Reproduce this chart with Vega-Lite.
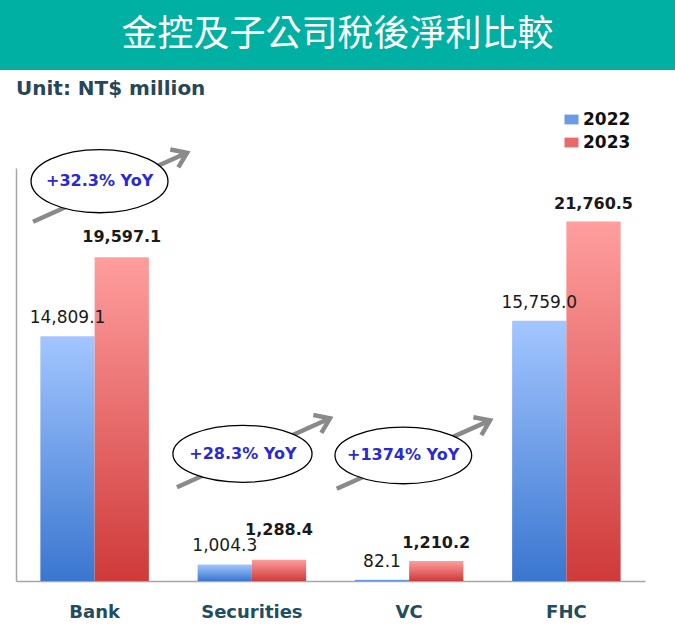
{
  "$schema": "https://vega.github.io/schema/vega-lite/v6.json",
  "padding": 0,
  "background": "white",
  "spacing": 98,
  "bounds": "flush",
  "center": true,
  "datasets": {
    "heading": [{"text": "金控及子公司稅後淨利比較"}],
    "profit": [
      {"category": "Bank", "year": "2022", "value": 14809.1},
      {"category": "Bank", "year": "2023", "value": 19597.1},
      {"category": "Securities", "year": "2022", "value": 1004.3},
      {"category": "Securities", "year": "2023", "value": 1288.4},
      {"category": "VC", "year": "2022", "value": 82.1},
      {"category": "VC", "year": "2023", "value": 1210.2},
      {"category": "FHC", "year": "2022", "value": 15759.0},
      {"category": "FHC", "year": "2023", "value": 21760.5}
    ],
    "yoy": [
      {"category": "Bank", "anchor": 24200, "label": "+32.3% YoY"},
      {"category": "Securities", "anchor": 7700, "label": "+28.3% YoY"},
      {"category": "VC", "anchor": 7600, "label": "+1374% YoY"}
    ]
  },
  "vconcat": [
    {
      "width": 675,
      "height": 70,
      "data": {"name": "heading"},
      "view": {"fill": "#00b0a2", "stroke": null},
      "title": {
        "text": "Unit: NT$ million",
        "orient": "bottom",
        "anchor": "start",
        "frame": "group",
        "offset": 9,
        "dx": 16,
        "font": "DejaVu Sans",
        "fontSize": 20,
        "fontWeight": "bold",
        "color": "#28465a"
      },
      "mark": {
        "type": "text",
        "font": "Noto Sans CJK TC",
        "fontSize": 36,
        "color": "white",
        "baseline": "middle",
        "dy": 0
      },
      "encoding": {"text": {"field": "text"}}
    },
    {
      "width": 643,
      "height": 413,
      "encoding": {
        "x": {
          "field": "category",
          "type": "nominal",
          "sort": ["Bank", "Securities", "VC", "FHC"],
          "scale": {"range": [0, 629], "paddingInner": 0.31, "paddingOuter": 0.155},
          "axis": {
            "title": null,
            "labelAngle": 0,
            "ticks": false,
            "domainColor": "#a6a6a6",
            "domainWidth": 1.5,
            "labelFont": "DejaVu Sans",
            "labelFontSize": 18,
            "labelFontWeight": "bold",
            "labelColor": "#1f4e5f",
            "labelPadding": 22
          }
        },
        "xOffset": {"field": "year", "scale": {"domain": ["2022", "2023"], "paddingInner": 0, "paddingOuter": 0}}
      },
      "layer": [
        {
          "data": {"name": "profit"},
          "mark": {"type": "bar"},
          "encoding": {
            "y": {
              "datum": 0,
              "type": "quantitative",
              "scale": {"domain": [0, 25000], "nice": false},
              "axis": {"title": null, "labels": false, "ticks": false, "grid": false, "domainColor": "#a6a6a6", "domainWidth": 1.5}
            },
            "y2": {"datum": 0},
            "color": {
              "field": "year",
              "type": "nominal",
              "scale": {"domain": ["2022", "2023"], "range": ["#6b9ae6", "#e86b6b"]},
              "legend": {
                "title": null,
                "orient": "none",
                "legendX": 563,
                "legendY": 111,
                "padding": 0,
                "symbolType": "M -1 -0.7 L 1 -0.7 L 1 0.7 L -1 0.7 Z",
                "symbolSize": 196,
                "labelFont": "DejaVu Sans",
                "labelFontSize": 17,
                "labelFontWeight": "bold",
                "labelColor": "#111111",
                "labelOffset": 3,
                "rowPadding": 5,
                "encode": {
                  "symbols": {
                    "update": {
                      "fill": [
                        {"test": "datum.value === '2022'", "value": {"gradient": "linear", "x1": 0, "y1": 0, "x2": 0, "y2": 1, "stops": [{"offset": 0, "color": "#a3c6ff"}, {"offset": 1, "color": "#3a76cf"}]}},
                        {"value": {"gradient": "linear", "x1": 0, "y1": 0, "x2": 0, "y2": 1, "stops": [{"offset": 0, "color": "#ff9e9e"}, {"offset": 1, "color": "#cf3a3a"}]}}
                      ]
                    }
                  }
                }
              }
            }
          }
        },
        {
          "data": {"name": "profit"},
          "transform": [{"filter": "datum.year === '2022'"}],
          "mark": {
            "type": "bar",
            "color": {"gradient": "linear", "x1": 0, "y1": 0, "x2": 0, "y2": 1, "stops": [{"offset": 0, "color": "#a3c6ff"}, {"offset": 1, "color": "#3a76cf"}]}
          },
          "encoding": {"y": {"field": "value", "type": "quantitative"}}
        },
        {
          "data": {"name": "profit"},
          "transform": [{"filter": "datum.year === '2023'"}],
          "mark": {
            "type": "bar",
            "color": {"gradient": "linear", "x1": 0, "y1": 0, "x2": 0, "y2": 1, "stops": [{"offset": 0, "color": "#ff9e9e"}, {"offset": 1, "color": "#cf3a3a"}]}
          },
          "encoding": {"y": {"field": "value", "type": "quantitative"}}
        },
        {
          "data": {"name": "profit"},
          "transform": [{"filter": "datum.year === '2022'"}],
          "mark": {"type": "text", "font": "DejaVu Sans", "fontSize": 17, "color": "#1a1a1a", "baseline": "alphabetic", "dy": -13},
          "encoding": {
            "y": {"field": "value", "type": "quantitative"},
            "text": {"field": "value", "type": "quantitative", "format": ",.1f"}
          }
        },
        {
          "data": {"name": "profit"},
          "transform": [{"filter": "datum.year === '2023'"}],
          "mark": {
            "type": "text",
            "font": "DejaVu Sans",
            "fontSize": 16,
            "fontWeight": "bold",
            "color": "#1a1a1a",
            "baseline": "alphabetic",
            "dy": {"expr": "datum.category === 'Securities' ? -25 : datum.category === 'Bank' ? -15 : -13"}
          },
          "encoding": {
            "y": {"field": "value", "type": "quantitative"},
            "text": {"field": "value", "type": "quantitative", "format": ",.1f"}
          }
        },
        {
          "data": {"name": "yoy"},
          "mark": {"type": "point", "filled": false, "color": "#8a8a8a", "strokeWidth": 4.5, "opacity": 1, "size": 25600, "strokeCap": "butt", "strokeJoin": "miter"},
          "encoding": {
            "xOffset": null,
            "y": {"field": "anchor", "type": "quantitative"},
            "shape": {
              "field": "category",
              "type": "nominal",
              "legend": null,
              "scale": {
                "domain": ["Bank", "Securities", "VC"],
                "range": [
                  "M -0.770 0.506 L 1.155 -0.356 M 0.946 -0.396 L 1.155 -0.356 L 1.046 -0.174",
                  "M -0.936 0.419 L 0.976 -0.444 M 0.768 -0.484 L 0.976 -0.444 L 0.868 -0.261",
                  "M -0.905 0.416 L 1.011 -0.438 M 0.803 -0.478 L 1.011 -0.438 L 0.903 -0.255"
                ]
              }
            }
          }
        },
        {
          "data": {"name": "yoy"},
          "mark": {"type": "point", "filled": true, "fill": "white", "stroke": "black", "strokeWidth": 1.3, "opacity": 1, "size": 25600},
          "encoding": {
            "xOffset": null,
            "y": {"field": "anchor", "type": "quantitative"},
            "shape": {
              "field": "category",
              "type": "nominal",
              "legend": null,
              "scale": {
                "domain": ["Bank", "Securities", "VC"],
                "range": [
                  "M 0.917 0 C 0.917 0.2175 0.534 0.394 0.061 0.394 C -0.412 0.394 -0.795 0.2175 -0.795 0 C -0.795 -0.2175 -0.412 -0.394 0.061 -0.394 C 0.534 -0.394 0.917 -0.2175 0.917 0 Z",
                  "M 0.752 0 C 0.752 0.197 0.363 0.356 -0.118 0.356 C -0.598 0.356 -0.987 0.197 -0.987 0 C -0.987 -0.197 -0.598 -0.356 -0.118 -0.356 C 0.363 -0.356 0.752 -0.197 0.752 0 Z",
                  "M 0.782 0 C 0.782 0.196 0.399 0.354 -0.073 0.354 C -0.544 0.354 -0.927 0.196 -0.927 0 C -0.927 -0.196 -0.544 -0.354 -0.073 -0.354 C 0.399 -0.354 0.782 -0.196 0.782 0 Z"
                ]
              }
            }
          }
        },
        {
          "data": {"name": "yoy"},
          "mark": {
            "type": "text",
            "font": "DejaVu Sans",
            "fontSize": 16,
            "fontWeight": "bold",
            "color": "#2a2ad4",
            "baseline": "middle",
            "dx": {"expr": "datum.category === 'Bank' ? 5 : datum.category === 'Securities' ? -9 : -6"}
          },
          "encoding": {
            "xOffset": null,
            "y": {"field": "anchor", "type": "quantitative"},
            "text": {"field": "label"}
          }
        }
      ],
      "resolve": {"scale": {"shape": "independent"}}
    }
  ],
  "config": {"view": {"stroke": null}}
}
